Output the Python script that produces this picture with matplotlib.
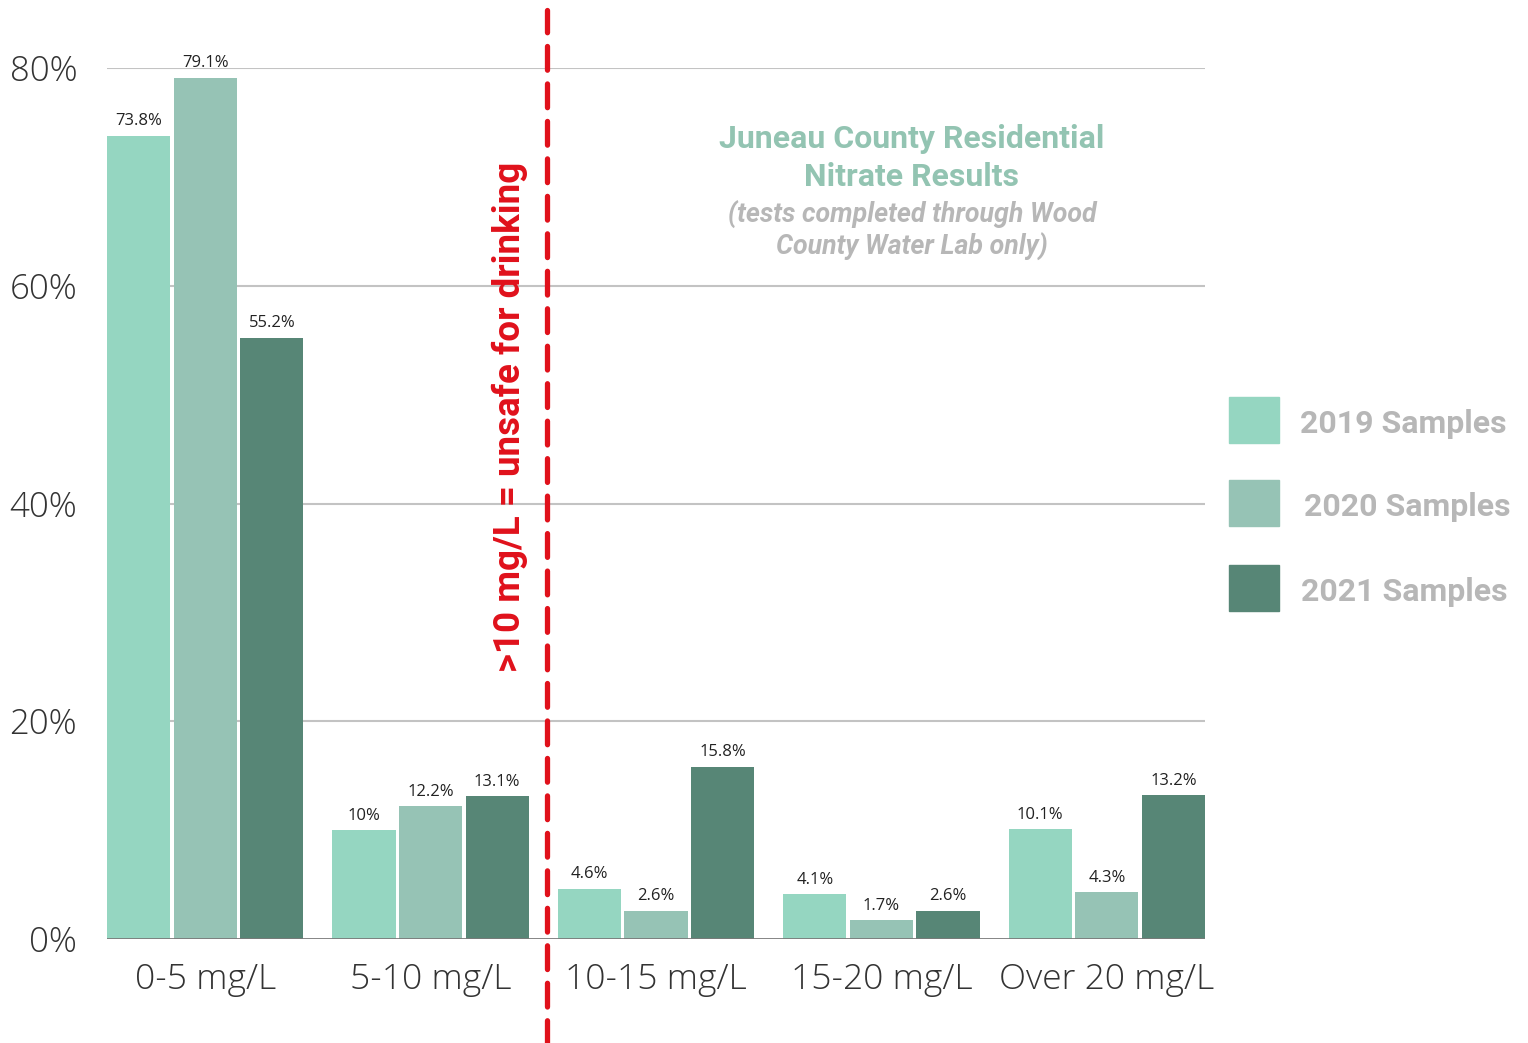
import numpy as np
import matplotlib
matplotlib.use("Agg")
import matplotlib.pyplot as plt
from matplotlib.patches import Rectangle
import matplotlib.transforms as mtransforms

# данные
categories = ["0-5 mg/L", "5-10 mg/L", "10-15 mg/L", "15-20 mg/L", "Over 20 mg/L"]
series_names = ["2019 Samples", "2020 Samples", "2021 Samples"]
values_2019 = [73.8, 10.0, 4.6, 4.1, 10.1]
values_2020 = [79.1, 12.2, 2.6, 1.7, 4.3]
values_2021 = [55.2, 13.1, 15.8, 2.6, 13.2]
yticks = [0, 20, 40, 60, 80]

colors = ["#95d6c1", "#96c3b5", "#578676"]
all_values = [values_2019, values_2020, values_2021]

W, H = 1528, 1043
fig = plt.figure(figsize=(W / 100, H / 100), dpi=100)
ax = fig.add_axes([107 / W, 104 / H, 1098 / W, 871 / H])

x = np.arange(len(categories))
step = 0.2956
width = 0.28
for i, (name, vals) in enumerate(zip(series_names, all_values)):
    pos = x + (i - 1) * step
    ax.bar(pos, vals, width=width, color=colors[i], label=name, zorder=3)
    for p, v in zip(pos, vals):
        ax.text(p, v + 0.6, f"{v:g}%", ha="center", va="bottom", fontsize=12,
                family="Open Sans", color="#222222", zorder=4, clip_on=False)

ax.set_xlim(-0.4356, 4.4356)
ax.set_ylim(0, 80)
for s in ax.spines.values():
    s.set_visible(False)

# сетка
for t in yticks[1:]:
    ax.axhline(t, color="#c3c3c3", lw=1.5, zorder=1)
ax.axhline(0, color="#7a7a7a", lw=2, zorder=4)

ax.set_yticks(yticks)
ax.set_yticklabels([f"{t}%" for t in yticks], fontsize=25, family="Open Sans",
                   fontweight="light", color="#333333")
ax.set_xticks(x)
ax.set_xticklabels(categories, fontsize=25.5, family="Open Sans",
                   fontweight="light", color="#333333")
ax.tick_params(axis="y", length=0, pad=21.5)
ax.tick_params(axis="x", length=0, pad=17)

# красная пунктирная линия
trans = mtransforms.blended_transform_factory(ax.transData, ax.transAxes)
ax.plot([1.515, 1.515], [-0.12, 1.067], transform=trans, color="#e0111b",
        lw=3.8, dashes=(4.5, 2.6), solid_capstyle="round", dash_capstyle="round",
        clip_on=False, zorder=5)
ax.text(1.352, 48, ">10 mg/L = unsafe for drinking", rotation=90, ha="center",
        va="center", fontsize=26.5, family="Roboto", fontweight="bold", color="#e0111b")

# заголовок
fig.text(912 / W, 1 - 158 / H, "Juneau County Residential\nNitrate Results",
         ha="center", va="center", fontsize=23, family="Roboto", fontweight="bold",
         color="#93c4b2", linespacing=1.35)
fig.text(912 / W, 1 - 231 / H, "(tests completed through Wood\nCounty Water Lab only)",
         ha="center", va="center", fontsize=19.3, family="Roboto", fontweight="bold",
         style="italic", color="#b7b7b7", linespacing=1.2)

# легенда
leg_y = [420, 503, 588]
leg_tx = [1300, 1304, 1301]
for name, c, yc, tx in zip(series_names, colors, leg_y, leg_tx):
    fig.add_artist(Rectangle(((1229) / W, 1 - (yc + 23) / H), 50 / W, 46 / H,
                             transform=fig.transFigure, color=c))
    fig.text(tx / W, 1 - (yc + 4) / H, name, ha="left", va="center", fontsize=23,
             family="Roboto", fontweight="bold", color="#b7b7b7")

fig.savefig("out.png", dpi=100)
